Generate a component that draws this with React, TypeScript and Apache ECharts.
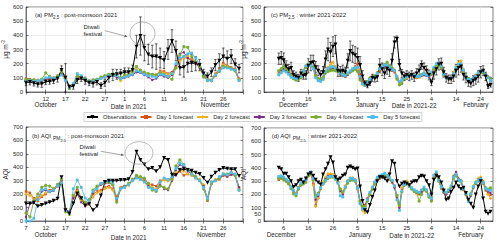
import React, { useEffect, useRef } from 'react';
import * as echarts from 'echarts';

const FONT = "'Liberation Sans', Arial, Helvetica, sans-serif";
const AX = '#262626';
const GRID_LINE = '#e2e2e2';

// ---------- categories ----------
const POST_START = '2021-10-07';
const POST_DAYS = 56; // Oct 7 .. Dec 1
const WIN_START = '2021-11-28';
const WIN_DAYS = 94; // Nov 28 .. Mar 1
const WIN_OFFSET = 6; // winter data begins 2021-12-04

// ---------- post-monsoon (Oct 7 .. Nov 30) ----------
const pmPostObs = [65,70,62,55,58,72,75,80,95,155,100,35,40,85,95,80,65,60,70,45,65,100,120,125,130,140,140,155,320,395,310,265,250,250,240,225,300,360,290,170,175,200,205,200,190,130,110,140,190,220,250,235,250,195,165];
const pmPostStd = [20,20,20,20,25,20,20,20,25,30,100,15,20,25,20,25,20,25,20,20,25,30,40,35,30,30,30,35,80,135,90,70,80,90,70,60,70,80,70,50,70,60,60,50,40,30,25,30,40,50,60,55,50,40,30];
const pmPostD1 = [95,90,85,80,85,90,95,100,105,145,110,40,55,115,105,90,75,80,85,100,110,120,125,115,95,115,120,130,150,145,130,120,125,120,150,145,130,140,180,230,250,240,230,210,190,130,95,85,130,160,205,185,175,160,95];
const pmPostD2 = [85,80,80,85,80,95,90,95,110,150,100,35,50,110,100,85,70,75,80,95,105,115,120,110,80,110,125,135,160,150,135,125,120,115,140,135,125,130,170,220,240,250,225,200,180,120,90,80,125,150,190,180,170,150,90];
const pmPostD3 = [80,75,80,75,80,90,95,90,100,140,95,30,55,105,95,85,70,80,90,100,105,110,115,105,95,100,110,120,140,135,120,105,85,95,120,110,100,120,190,270,280,240,220,200,170,115,85,80,120,145,175,175,165,150,85];
const pmPostD4 = [90,85,85,80,90,135,110,100,110,145,90,25,50,110,100,95,75,85,90,105,115,125,130,120,100,120,125,145,180,155,140,130,125,120,135,125,110,90,170,260,320,315,250,210,180,110,80,80,115,145,180,175,165,150,85];
const pmPostD5 = [75,80,75,80,85,100,105,95,100,120,80,35,60,130,115,90,70,75,85,95,105,115,120,115,95,105,115,125,150,140,125,115,110,105,125,120,110,130,200,240,250,270,275,240,200,130,85,80,120,150,170,170,160,155,80];

const aqPostObs = [130,130,135,110,120,130,140,150,165,325,80,55,130,205,170,115,125,80,110,190,290,300,300,300,305,305,310,365,515,455,420,385,395,370,400,470,455,345,340,380,385,380,375,360,350,320,285,330,360,380,395,390,385,385,335];
const aqPostD1 = [220,210,170,150,180,200,230,240,270,300,90,65,180,230,160,120,140,200,220,230,250,260,240,180,250,260,270,310,330,320,310,280,270,260,300,310,300,320,350,370,340,350,340,320,300,260,150,280,300,310,340,330,350,340,250];
const aqPostD2 = [200,190,160,175,190,210,220,235,255,290,75,60,190,220,150,130,125,180,210,220,240,250,230,150,245,255,265,300,325,320,300,270,250,240,290,305,300,310,360,380,370,350,340,330,310,270,160,290,310,320,345,340,355,345,240];
const aqPostD3 = [30,130,140,165,220,230,215,225,260,300,85,70,170,200,140,110,140,210,250,270,280,285,270,160,240,260,270,305,330,310,295,260,240,230,270,240,230,300,380,420,400,370,350,330,300,260,165,290,300,320,340,335,345,340,250];
const aqPostD4 = [60,30,150,200,250,265,260,240,270,310,70,50,190,250,170,140,160,230,260,280,290,290,270,140,240,255,280,310,340,330,320,280,230,220,260,250,240,310,410,455,420,380,360,330,300,240,160,280,300,320,350,350,360,340,230];
const aqPostD5 = [0,0,20,160,230,240,220,230,260,285,80,60,240,305,250,170,150,220,240,280,295,300,290,170,240,250,270,300,320,310,290,250,240,230,290,320,310,330,390,430,420,380,350,320,300,250,170,290,300,330,350,345,360,350,230];

// ---------- winter (Dec 4 .. Feb 28) ----------
const pmWinObs = [235,240,225,180,160,170,120,110,100,130,115,120,185,205,210,175,150,120,140,230,300,280,320,335,150,145,150,140,220,290,270,260,240,190,110,60,45,60,100,95,105,185,160,130,165,150,220,350,375,190,130,110,120,110,120,105,130,150,190,170,150,120,65,130,160,195,200,140,100,90,90,110,150,170,180,120,100,70,60,80,90,110,140,150,110,40,50];
const pmWinStd = [40,45,50,40,35,40,30,30,25,30,25,30,50,55,50,40,35,30,40,60,80,70,70,65,40,35,40,35,50,70,60,60,70,60,40,20,15,15,25,25,30,50,45,35,40,40,50,40,20,40,30,30,30,30,30,30,35,40,30,35,35,35,20,40,40,40,40,35,30,30,30,35,45,50,40,35,35,30,25,35,35,40,40,35,30,15,15];
const pmWinD1 = [130,145,160,150,140,115,105,90,95,105,145,175,190,185,165,115,95,80,90,135,150,165,180,170,145,125,120,110,125,145,160,180,200,120,70,55,65,90,100,105,125,150,165,180,185,170,150,140,90,70,85,100,110,110,115,110,100,105,115,120,115,110,125,150,180,190,170,115,100,90,95,125,160,185,195,145,100,85,80,90,105,125,140,145,125,100,95];
const pmWinD2 = [125,140,155,145,130,110,100,100,105,115,155,185,200,190,165,105,85,80,90,150,175,195,210,180,155,130,115,110,125,140,160,170,160,100,65,50,70,95,100,100,125,165,175,190,195,180,165,150,100,60,75,100,105,115,120,105,100,105,115,130,125,115,135,165,195,200,180,125,100,95,105,140,180,205,220,160,105,90,85,95,115,135,150,140,115,100,85];
const pmWinD3 = [145,155,160,150,140,110,95,90,95,105,145,175,185,185,175,120,95,90,100,135,150,160,165,160,145,125,115,110,120,140,155,165,145,95,65,60,75,95,105,110,135,160,165,180,185,170,165,150,105,70,85,110,115,120,115,110,105,110,115,120,115,110,125,160,185,190,175,125,105,100,105,130,170,190,195,150,100,95,90,100,115,135,145,140,125,110,100];
const pmWinD4 = [150,165,180,165,150,115,95,85,90,100,140,175,190,190,175,115,95,90,100,135,145,150,155,150,145,135,125,120,130,145,150,160,145,85,55,55,75,100,105,110,135,160,175,195,210,185,170,155,95,50,60,95,110,120,125,115,110,115,125,130,125,120,130,160,185,190,170,120,105,95,100,130,165,185,190,145,100,95,90,95,110,130,140,135,120,105,95];
const pmWinD5 = [120,135,150,140,125,105,100,95,100,110,150,185,195,185,165,100,80,75,90,145,165,175,180,170,155,135,120,115,135,150,165,170,175,110,60,50,65,90,100,105,130,165,175,190,190,175,160,150,110,75,85,100,110,115,120,115,110,110,120,130,120,115,140,175,200,205,185,125,100,95,100,130,175,195,200,155,105,90,85,95,110,135,150,145,120,100,80];

const aqWinObs = [400,390,355,355,330,300,255,270,300,310,290,320,350,360,340,310,290,275,350,390,430,480,440,330,310,320,340,350,400,410,400,390,395,260,150,80,65,120,180,230,300,330,330,320,300,350,450,430,300,260,280,290,280,270,290,300,300,330,340,335,300,270,200,310,340,330,290,230,160,170,220,250,290,260,240,250,210,160,130,100,200,260,300,170,70,55,70];
const aqWinD1 = [310,320,315,300,280,245,215,210,255,275,285,300,340,355,280,120,180,250,290,320,345,350,345,325,295,240,210,260,300,310,315,300,240,150,110,120,170,210,250,290,320,320,330,340,330,310,290,260,190,110,240,285,295,270,245,225,210,205,220,245,225,185,160,330,345,300,245,215,205,225,255,330,345,310,300,235,195,150,195,255,285,305,315,285,230,210,195];
const aqWinD2 = [320,325,320,300,285,250,220,205,245,280,295,305,345,360,270,110,170,240,295,330,355,355,350,330,300,240,215,265,305,325,325,310,240,130,80,60,150,200,250,290,325,330,340,345,335,315,300,255,175,110,250,290,300,275,250,225,205,200,215,240,225,190,165,345,360,310,250,215,205,230,265,340,360,315,305,245,200,155,210,265,295,320,330,300,245,200,170];
const aqWinD3 = [330,335,320,310,295,255,225,195,240,275,290,295,345,360,310,160,190,245,285,315,335,340,335,320,290,225,200,255,300,320,320,310,250,140,95,110,160,200,245,285,315,325,330,340,335,320,295,250,175,100,225,270,280,265,245,225,215,205,220,240,225,185,160,325,350,305,250,215,200,220,255,335,370,320,305,240,200,150,190,250,285,310,320,295,250,225,210];
const aqWinD4 = [320,325,310,300,280,245,205,190,240,270,280,290,340,355,310,190,210,250,280,300,320,330,330,315,290,240,220,250,285,305,310,300,250,150,110,110,150,200,240,280,315,330,335,345,340,325,305,265,190,120,220,270,280,260,240,225,215,150,200,235,225,180,150,320,345,300,255,225,215,230,255,320,340,305,295,240,205,150,200,255,285,300,310,285,250,240,250];
const aqWinD5 = [335,340,330,315,300,255,230,205,250,285,300,310,355,370,320,180,200,250,280,305,330,335,335,315,285,190,180,255,300,320,320,305,245,130,90,95,160,215,255,295,330,340,350,360,345,325,305,265,160,80,225,275,285,265,250,235,225,215,235,255,235,195,170,345,370,305,255,225,215,235,265,330,350,310,300,245,205,145,205,260,290,305,315,290,245,235,230];

// ---------- tick / label text ----------
const MONTHS_A: Record<number, string> = { 5: 'October', 26: 'Date in 2021', 48: 'November' };
const MONTHS_B: Record<number, string> = { 5: 'October', 26: 'Date in 2021', 47: 'November' };
const MONTHS_C: Record<number, string> = { 12: 'December', 42: 'January', 61: 'Date in 2021-22', 86: 'February' };
const MONTHS_D: Record<number, string> = { 7: 'December', 39: 'January', 60: 'Date in 2021-22', 84: 'February' };
const TITLE_A = '{m|(a) PM}{s|2.5}{m| : post-monsoon 2021}';
const TITLE_B = '{m|(b) AQI }{p|PM}{q|2.5}{m| : post-monsoon 2021}';
const TITLE_C = '{m|(c) PM}{s|2.5}{m| : winter 2021-2022}';
const TITLE_D = '{m|(d) AQI }{p|PM}{q|2.5}{m| : winter 2021-2022}';
const UNIT_NAME = '{n|\u03bcg m}{s|-3}';

const FC_NAMES = ['Day 1 forecast', 'Day 2 forecast', 'Day 3 forecast', 'Day 4 forecast', 'Day 5 forecast'];
const FC_COLORS = ['#D95319', '#EDB120', '#7E2F8E', '#77AC30', '#4DBEEE'];
const FC_SYMBOLS = ['rect', 'diamond', 'circle', 'circle', 'rect'];
const FC_SIZES = [2.4, 3.6, 2.4, 3.2, 2.8];

function dateList(start: string, n: number): string[] {
  const [y, m, d] = start.split('-').map(Number);
  const out: string[] = [];
  for (let i = 0; i < n; i++) {
    out.push(new Date(Date.UTC(y, m - 1, d + i)).toISOString().slice(0, 10));
  }
  return out;
}

function pad(arr: number[], offset: number): (number | null)[] {
  return [...new Array(offset).fill(null), ...arr];
}

const lineW = 0.6;

function xMain(grid: number, cats: string[], tick: (i: number) => boolean, label: (i: number) => boolean, margin: number) {
  return {
    type: 'category', gridIndex: grid, data: cats, boundaryGap: false, position: 'bottom',
    axisLine: { show: true, onZero: false, lineStyle: { color: AX, width: lineW } },
    axisTick: { show: true, inside: true, length: 2.5, interval: (i: number) => tick(i), lineStyle: { color: AX, width: lineW } },
    axisLabel: {
      show: true, interval: (i: number) => label(i), margin, fontSize: 6, color: AX, fontFamily: FONT,
      formatter: (v: string) => String(Number(v.slice(8, 10))),
    },
    splitLine: { show: true, interval: (i: number) => tick(i), lineStyle: { color: GRID_LINE, width: lineW } },
  };
}

function xTop(grid: number, cats: string[], tick: (i: number) => boolean) {
  return {
    type: 'category', gridIndex: grid, data: cats, boundaryGap: false, position: 'top',
    axisLine: { show: false },
    axisTick: { show: true, inside: true, length: 2.5, interval: (i: number) => tick(i), lineStyle: { color: AX, width: lineW } },
    axisLabel: { show: false }, splitLine: { show: false },
  };
}

function xMonth(grid: number, cats: string[], labels: Record<number, string>, margin: number, dateDy: number) {
  return {
    type: 'category', gridIndex: grid, data: cats, boundaryGap: false, position: 'bottom',
    axisLine: { show: false }, axisTick: { show: false }, splitLine: { show: false },
    axisLabel: {
      show: true, margin, fontSize: 6.3, color: AX, fontFamily: FONT,
      interval: (i: number) => labels[i] !== undefined,
      formatter: (_v: string, i: number) => {
        const t = labels[i] || '';
        return t.startsWith('Date') ? `{d|${t}}` : t;
      },
      rich: { d: { fontSize: 6.3, color: AX, fontFamily: FONT, padding: [dateDy, 0, 0, 0] } },
    },
  };
}

function yAx(grid: number, max: number, name: string, nameGap: number) {
  return {
    type: 'value', gridIndex: grid, min: 0, max, interval: 100, position: 'left',
    name, nameLocation: 'middle', nameGap,
    nameTextStyle: {
      color: AX, fontFamily: FONT, fontSize: 6.5,
      rich: {
        n: { fontSize: 6.5, lineHeight: 8, verticalAlign: 'bottom', color: AX, fontFamily: FONT },
        s: { fontSize: 4.5, lineHeight: 4.5, verticalAlign: 'top', color: AX, fontFamily: FONT },
      },
    },
    axisLine: { show: true, lineStyle: { color: AX, width: lineW } },
    axisTick: { show: true, inside: true, length: 2.5, lineStyle: { color: AX, width: lineW } },
    axisLabel: { fontSize: 6, color: AX, margin: 3, fontFamily: FONT },
    splitLine: { show: true, lineStyle: { color: GRID_LINE, width: lineW } },
  };
}

function yRight(grid: number, max: number) {
  return {
    type: 'value', gridIndex: grid, min: 0, max, interval: 100, position: 'right',
    axisLine: { show: false },
    axisTick: { show: true, inside: true, length: 2.5, lineStyle: { color: AX, width: lineW } },
    axisLabel: { show: false }, splitLine: { show: false },
  };
}

function panelSeries(xi: number, yi: number, obs: number[], fcs: number[][], offset: number, std?: number[]) {
  const s: any[] = [];
  fcs.forEach((arr, k) => {
    s.push({
      type: 'line', name: FC_NAMES[k], xAxisIndex: xi, yAxisIndex: yi, data: pad(arr, offset),
      symbol: FC_SYMBOLS[k], symbolSize: FC_SIZES[k], showAllSymbol: true, silent: true,
      lineStyle: { color: FC_COLORS[k], width: 0.9 }, itemStyle: { color: FC_COLORS[k] },
    });
  });
  if (std) {
    s.push({
      type: 'custom', name: 'errorbar', xAxisIndex: xi, yAxisIndex: yi, silent: true,
      data: obs.map((v, i) => [i + offset, v - std[i], v + std[i]]),
      encode: { x: 0, y: [1, 2] },
      renderItem: (_p: any, api: any) => {
        const x = api.value(0);
        const top = api.coord([x, api.value(2)]);
        const bot = api.coord([x, api.value(1)]);
        const w = 1.3;
        const st = { stroke: '#000', lineWidth: 0.6 };
        return {
          type: 'group',
          children: [
            { type: 'line', shape: { x1: top[0], y1: top[1], x2: bot[0], y2: bot[1] }, style: st },
            { type: 'line', shape: { x1: top[0] - w, y1: top[1], x2: top[0] + w, y2: top[1] }, style: st },
            { type: 'line', shape: { x1: bot[0] - w, y1: bot[1], x2: bot[0] + w, y2: bot[1] }, style: st },
          ],
        };
      },
    });
  }
  s.push({
    type: 'line', name: 'Observations', xAxisIndex: xi, yAxisIndex: yi, data: pad(obs, offset),
    symbol: 'triangle', symbolRotate: 180, symbolSize: 4, showAllSymbol: true, silent: true,
    lineStyle: { color: '#000', width: 1 }, itemStyle: { color: '#000' },
  });
  return s;
}

function titleText(x: number, y: number, text: string) {
  return {
    type: 'text', x, y, z: 100, silent: true,
    style: {
      text, fill: AX, fontSize: 6, fontFamily: FONT, align: 'left', verticalAlign: 'top',
      rich: {
        m: { fontSize: 6, lineHeight: 7, verticalAlign: 'top', fill: AX, fontFamily: FONT },
        s: { fontSize: 4.5, lineHeight: 4.5, padding: [3, 0, 0, 0], verticalAlign: 'top', fill: AX, fontFamily: FONT },
        p: { fontSize: 5, lineHeight: 5, padding: [3, 0, 0, 0], verticalAlign: 'top', fill: AX, fontFamily: FONT },
        q: { fontSize: 4, lineHeight: 4, padding: [6, 0, 0, 0], verticalAlign: 'top', fill: AX, fontFamily: FONT },
      },
    },
  };
}

function diwali(tx: number, ty: number, cx: number, cy: number, rx: number, ry: number, a0: number[], a1: number[]) {
  const dx = a1[0] - a0[0];
  const dy = a1[1] - a0[1];
  const len = Math.sqrt(dx * dx + dy * dy);
  const ux = dx / len, uy = dy / len;
  const hl = 3, hw = 1.3;
  const bx = a1[0] - ux * hl, by = a1[1] - uy * hl;
  return [
    {
      type: 'text', x: tx, y: ty, z: 100, silent: true,
      style: { text: 'Diwali\nfestival', fill: AX, fontSize: 6, lineHeight: 7.5, fontFamily: FONT, align: 'left', verticalAlign: 'top' },
    },
    { type: 'ellipse', z: 100, silent: true, shape: { cx, cy, rx, ry }, style: { fill: 'none', stroke: '#8c8c8c', lineWidth: 0.6 } },
    { type: 'line', z: 100, silent: true, shape: { x1: a0[0], y1: a0[1], x2: bx, y2: by }, style: { stroke: '#555', lineWidth: 0.5 } },
    {
      type: 'polygon', z: 100, silent: true,
      shape: { points: [[a1[0], a1[1]], [bx - uy * hw, by + ux * hw], [bx + uy * hw, by - ux * hw]] },
      style: { fill: '#555' },
    },
  ];
}

function buildOption() {
  const postCats = dateList(POST_START, POST_DAYS);
  const winCats = dateList(WIN_START, WIN_DAYS);
  const postTick = (i: number) => i % 5 === 0;
  const winTick = (i: number) => i >= 8 && (i - 8) % 10 === 0;

  return {
    animation: false,
    textStyle: { fontFamily: FONT },
    grid: [
      { left: 26, top: 7, width: 217, height: 85, show: true, borderColor: AX, borderWidth: lineW },
      { left: 26, top: 127, width: 217, height: 94, show: true, borderColor: AX, borderWidth: lineW },
      { left: 264, top: 7, width: 229, height: 85, show: true, borderColor: AX, borderWidth: lineW },
      { left: 264, top: 128, width: 229, height: 93, show: true, borderColor: AX, borderWidth: lineW },
    ],
    xAxis: [
      xMain(0, postCats, postTick, (i) => postTick(i) && i > 0 && i < 55, 3.5),
      xMain(1, postCats, postTick, (i) => postTick(i) && i < 55, 4),
      xMain(2, winCats, winTick, (i) => winTick(i), 3.5),
      xMain(3, winCats, winTick, (i) => winTick(i), 4),
      xMonth(0, postCats, MONTHS_A, 9.5, 2),
      xMonth(1, postCats, MONTHS_B, 10.3, 3),
      xMonth(2, winCats, MONTHS_C, 9, 1),
      xMonth(3, winCats, MONTHS_D, 10.3, 1),
      xTop(0, postCats, postTick),
      xTop(1, postCats, postTick),
      xTop(2, winCats, winTick),
      xTop(3, winCats, winTick),
    ],
    yAxis: [
      yAx(0, 600, UNIT_NAME, 15),
      yAx(1, 700, 'AQI', 16),
      yAx(2, 600, UNIT_NAME, 9),
      yAx(3, 700, 'AQI', 9),
      {
        type: 'value', gridIndex: 3, min: 0, max: 700, interval: 50, position: 'left',
        axisLine: { show: false }, axisTick: { show: false }, splitLine: { show: false },
        axisLabel: { fontSize: 6, color: AX, margin: 3, fontFamily: FONT, formatter: (v: number) => (v === 50 ? '50' : '') },
      },
      yRight(0, 600),
      yRight(1, 700),
      yRight(2, 600),
      yRight(3, 700),
    ],
    legend: {
      data: ['Observations', ...FC_NAMES],
      left: 84, top: 112.5, orient: 'horizontal', selectedMode: false,
      itemWidth: 11, itemHeight: 5, itemGap: 3,
      padding: [1.5, 2, 1.5, 2],
      borderColor: '#a6a6a6', borderWidth: 0.5, backgroundColor: '#fff',
      textStyle: { fontSize: 5.7, color: AX, fontFamily: FONT },
    },
    graphic: [
      titleText(35, 11.5, TITLE_A),
      titleText(32, 132.5, TITLE_B),
      titleText(270.7, 11.5, TITLE_C),
      titleText(271.7, 132.5, TITLE_D),
      ...diwali(83.5, 22.8, 142.5, 33.5, 12.5, 11.5, [105, 30.7], [127.5, 36.7]),
      ...diwali(79.5, 142.8, 139, 153, 14, 11.3, [100.7, 151.3], [124, 155.3]),
    ],
    series: [
      ...panelSeries(0, 0, pmPostObs, [pmPostD1, pmPostD2, pmPostD3, pmPostD4, pmPostD5], 0, pmPostStd),
      ...panelSeries(1, 1, aqPostObs, [aqPostD1, aqPostD2, aqPostD3, aqPostD4, aqPostD5], 0),
      ...panelSeries(2, 2, pmWinObs, [pmWinD1, pmWinD2, pmWinD3, pmWinD4, pmWinD5], WIN_OFFSET, pmWinStd),
      ...panelSeries(3, 3, aqWinObs, [aqWinD1, aqWinD2, aqWinD3, aqWinD4, aqWinD5], WIN_OFFSET),
    ],
  };
}

export default function App() {
  const ref = useRef<HTMLDivElement>(null);
  useEffect(() => {
    if (!ref.current) return;
    const chart = echarts.init(ref.current, undefined, { renderer: 'svg' });
    chart.setOption(buildOption() as any);
    return () => chart.dispose();
  }, []);
  return (
    <div
      ref={ref}
      style={{ position: 'absolute', left: 0, top: 0, width: 500, height: 244, background: '#fff' }}
    />
  );
}
